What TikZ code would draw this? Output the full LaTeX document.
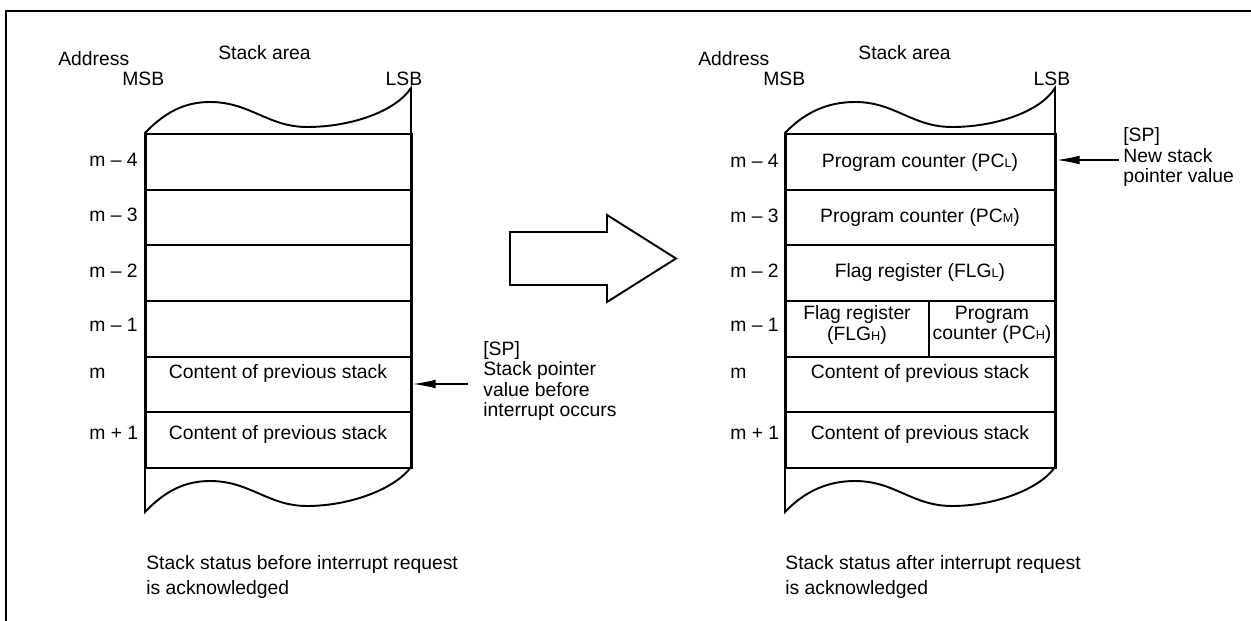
\documentclass[tikz,border=0pt]{standalone}
\usepackage{fontspec}
\setmainfont{Liberation Sans}
\usetikzlibrary{arrows.meta,positioning}
\newcommand{\regsub}[1]{{\fontsize{7.2}{8}\selectfont #1}}

\begin{document}
\begin{tikzpicture}[x=0.02cm, y=-0.02cm,
    every node/.style={inner sep=0pt, font=\fontsize{11}{11.7}\selectfont},
    stk/.style={draw=black, line width=1.1pt, line join=miter},
    cellL/.style={stk, minimum width=5.32cm, minimum height=1.1133cm, anchor=north west},
    cellR/.style={stk, minimum width=5.4cm, minimum height=1.1133cm, anchor=north west},
    lbl/.style={anchor=base west},
    txt/.style={anchor=base},
    note/.style={anchor=base west, align=left},
    capt/.style={anchor=base west, align=left, font=\fontsize{11}{13.7}\selectfont},
    ptr/.style={-{Latex[length=13pt,width=5pt]}, line width=0.8pt},
]
\useasboundingbox (0,0) rectangle (1251,621);

% Frame
\draw[line width=1.2pt] (6,621) -- (6,11) -- (1251,11);

% Left stack
\draw[stk] (145,133) .. controls (165,112) and (185,102) .. (210,102)
    .. controls (250,102) and (268,127) .. (307,127)
    .. controls (350,127) and (395,112) .. (411,88) -- (411,467)
    .. controls (395,489) and (350,506) .. (307,506)
    .. controls (268,506) and (250,481) .. (210,481)
    .. controls (185,481) and (165,491) .. (145,512) -- cycle;
\foreach \i/\nm in {0/m4, 1/m3, 2/m2, 3/m1, 4/m, 5/mp} {
    \node[cellL] (L\nm) at (145, {133+55.667*\i}) {};
}
\node[lbl] (la) at (58,66) {Address};
\node[lbl] (lmsb) at (122,86) {MSB};
\node[lbl] (larea) at (218,60) {Stack area};
\node[txt] (llsb) at (404,86) {LSB};

% Left addresses
\node[lbl] at (89,167) {m -- 4};
\node[lbl] at (89,222) {m -- 3};
\node[lbl] at (89,278) {m -- 2};
\node[lbl] at (89,332) {m -- 1};
\node[lbl] at (89,379) {m};
\node[lbl] at (89,439) {m + 1};

\node[txt] (lcm) at (278,379) {Content of previous stack};
\node[txt] (lcmp) at (278,439) {Content of previous stack};

% Old stack pointer
\coordinate (spold) at (468,384);
\draw[ptr] (spold) -- (spold -| Lm.east);
\node[note] (lsp) at (483,417)
    {[SP]\\Stack pointer\\value before\\interrupt occurs};

% Big arrow
\draw[stk] (510,232) -- (607,232) -- (607,215) -- (676,258.5)
    -- (607,302) -- (607,285) -- (510,285) -- cycle;

% Right stack
\draw[stk] (785,133) .. controls (805,112) and (828,102) .. (855,102)
    .. controls (895,102) and (912,127) .. (952,127)
    .. controls (995,127) and (1040,112) .. (1055,88) -- (1055,467)
    .. controls (1040,489) and (995,506) .. (952,506)
    .. controls (912,506) and (895,481) .. (855,481)
    .. controls (828,481) and (805,491) .. (785,512) -- cycle;
\foreach \i/\nm in {0/m4, 1/m3, 2/m2, 3/m1, 4/m, 5/mp} {
    \node[cellR] (R\nm) at (785, {133+55.667*\i}) {};
}
\draw[stk] (929,300) -- (929,355.667);
\node[lbl] (ra) at (698,66) {Address};
\node[lbl] (rmsb) at (763,86) {MSB};
\node[lbl] (rarea) at (858,60) {Stack area};
\node[txt] (rlsb) at (1052,86) {LSB};

% Right addresses
\node[lbl] at (730,168) {m -- 4};
\node[lbl] at (730,223) {m -- 3};
\node[lbl] at (730,278) {m -- 2};
\node[lbl] at (730,332) {m -- 1};
\node[lbl] at (730,379) {m};
\node[lbl] at (730,439) {m + 1};

\node[txt] (rpcl) at (920,168) {Program counter (PC\regsub{L})};
\node[txt] (rpcm) at (920,223) {Program counter (PC\regsub{M})};
\node[txt] (rflgl) at (920,278) {Flag register (FLG\regsub{L})};
\node[align=center] (rflgh) at (857,325) {Flag register\\(FLG\regsub{H})};
\node[align=center] (rpch) at (992,325) {Program\\counter (PC\regsub{H})};
\node[txt] (rcm) at (920,379) {Content of previous stack};
\node[txt] (rcmp) at (920,439) {Content of previous stack};

% New stack pointer
\coordinate (spnew) at (1119,160);
\draw[ptr] (spnew) -- (spnew -| Rm4.east);
\node[note] (rsp) at (1123,183)
    {[SP]\\New stack\\pointer value};

% Captions
\node[capt] (lcap) at (146,594)
    {Stack status before interrupt request\\is acknowledged};
\node[capt] (rcap) at (785,594)
    {Stack status after interrupt request\\is acknowledged};

\end{tikzpicture}
\end{document}
